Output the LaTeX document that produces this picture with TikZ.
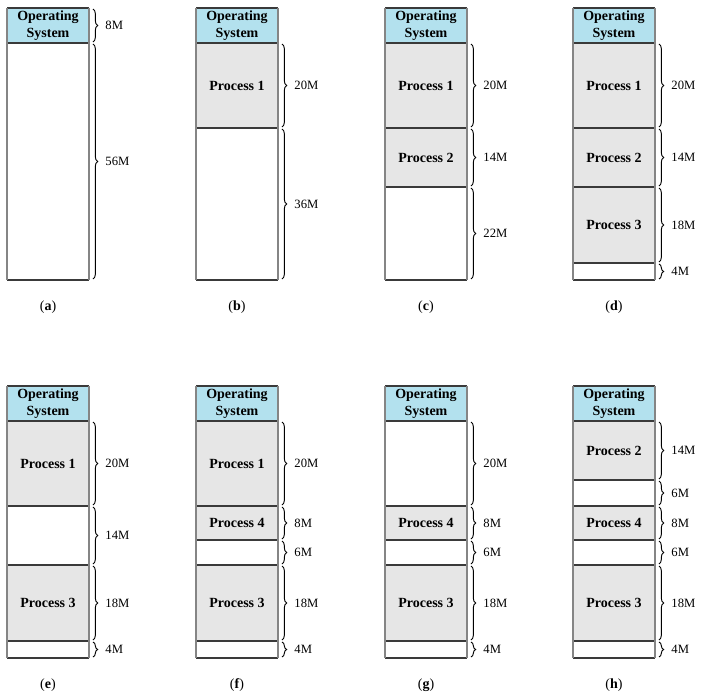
\documentclass[tikz,border=0pt]{standalone}
\usepackage{fontspec}
\setmainfont{Liberation Serif}
\usetikzlibrary{decorations.pathreplacing}
\definecolor{osblue}{HTML}{B3E1EE}
\definecolor{procgray}{HTML}{E6E6E6}
\definecolor{sidegray}{HTML}{858585}
\definecolor{divgray}{HTML}{3A3A3A}
\tikzset{
  osseg/.style={fill=osblue},
  procseg/.style={fill=procgray},
  freeseg/.style={fill=white},
  boxtext/.style={font=\bfseries\fontsize{10.5}{13}\selectfont, align=center, inner sep=0pt},
  sizelabel/.style={font=\fontsize{9.5}{10}\selectfont, anchor=west, inner sep=0pt},
  caption/.style={font=\fontsize{10.5}{12}\selectfont, inner sep=0pt},
  memsize/.style={decorate, decoration={brace, amplitude=3.5pt}, line width=0.7pt},
  divline/.style={draw=divgray, line width=1.3pt},
  sideline/.style={draw=sidegray, line width=2pt},
}
% \seg{name}{x}{ytop}{ybot}{style}{text}{size}
\newcommand{\seg}[7]{%
  \path[#5] (#2,#3) rectangle (#2+82,#4);
  \node[boxtext] (#1) at (#2+41,{(#3+#4)/2}) {#6};
  \coordinate (#1t) at (#2+86,#3+1);
  \coordinate (#1b) at (#2+86,#4-1);
  \draw[memsize] (#1t) -- (#1b) node[midway, right=9pt, sizelabel] {#7};
}
% \osbox{name}{x}{ytop}{ybot}  (no brace)
\newcommand{\osbox}[4]{%
  \path[osseg] (#2,#3) rectangle (#2+82,#4);
  \node[boxtext] (#1) at (#2+41,{(#3+#4)/2}) {Operating\\System};
}
\newcommand{\colframe}[4]{% x, ytop, list of divider ys, ybot
  \foreach \yy in {#3} {\draw[divline] (#1,\yy) -- (#1+82,\yy);}
  \draw[divgray, line width=1pt] (#1,#4) -- (#1+82,#4);
  \draw[divgray, line width=1pt] (#1,#2) -- (#1+82,#2);
  \draw[sideline] (#1,#2) -- (#1,#4);
  \draw[sideline] (#1+82,#2) -- (#1+82,#4);
}
\begin{document}
\begin{tikzpicture}[x=0.75pt,y=-0.75pt]
\useasboundingbox (0,0) rectangle (708,696);
% (a)
\seg{aos}{7}{8}{43}{osseg}{Operating\\System}{8M}
\seg{afree}{7}{43}{280}{freeseg}{}{56M}
\colframe{7}{8}{43}{280}
\node[caption] (capa) at (48,307) {(\textbf{a})};
% (b)
\osbox{bos}{196}{8}{43}
\seg{bp1}{196}{43}{128}{procseg}{Process 1}{20M}
\seg{bfree}{196}{128}{280}{freeseg}{}{36M}
\colframe{196}{8}{43,128}{280}
\node[caption] (capb) at (237,307) {(\textbf{b})};
% (c)
\osbox{cos}{385}{8}{43}
\seg{cp1}{385}{43}{128}{procseg}{Process 1}{20M}
\seg{cp2}{385}{128}{187}{procseg}{Process 2}{14M}
\seg{cfree}{385}{187}{280}{freeseg}{}{22M}
\colframe{385}{8}{43,128,187}{280}
\node[caption] (capc) at (426,307) {(\textbf{c})};
% (d)
\osbox{dos}{573}{8}{43}
\seg{dp1}{573}{43}{128}{procseg}{Process 1}{20M}
\seg{dp2}{573}{128}{187}{procseg}{Process 2}{14M}
\seg{dp3}{573}{187}{263}{procseg}{Process 3}{18M}
\seg{dfree}{573}{263}{280}{freeseg}{}{4M}
\colframe{573}{8}{43,128,187,263}{280}
\node[caption] (capd) at (614,307) {(\textbf{d})};
% (e)
\osbox{eos}{7}{386}{421}
\seg{ep1}{7}{421}{506}{procseg}{Process 1}{20M}
\seg{efree}{7}{506}{565}{freeseg}{}{14M}
\seg{ep3}{7}{565}{641}{procseg}{Process 3}{18M}
\seg{efree2}{7}{641}{658}{freeseg}{}{4M}
\colframe{7}{386}{421,506,565,641}{658}
\node[caption] (cape) at (48,685) {(\textbf{e})};
% (f)
\osbox{fos}{196}{386}{421}
\seg{fp1}{196}{421}{506}{procseg}{Process 1}{20M}
\seg{fp4}{196}{506}{540}{procseg}{Process 4}{8M}
\seg{ffree}{196}{540}{565}{freeseg}{}{6M}
\seg{fp3}{196}{565}{641}{procseg}{Process 3}{18M}
\seg{ffree2}{196}{641}{658}{freeseg}{}{4M}
\colframe{196}{386}{421,506,540,565,641}{658}
\node[caption] (capf) at (237,685) {(\textbf{f})};
% (g)
\osbox{gos}{385}{386}{421}
\seg{gfree}{385}{421}{506}{freeseg}{}{20M}
\seg{gp4}{385}{506}{540}{procseg}{Process 4}{8M}
\seg{gfree1}{385}{540}{565}{freeseg}{}{6M}
\seg{gp3}{385}{565}{641}{procseg}{Process 3}{18M}
\seg{gfree2}{385}{641}{658}{freeseg}{}{4M}
\colframe{385}{386}{421,506,540,565,641}{658}
\node[caption] (capg) at (426,685) {(\textbf{g})};
% (h)
\osbox{hos}{573}{386}{421}
\seg{hp2}{573}{421}{480}{procseg}{Process 2}{14M}
\seg{hfree}{573}{480}{506}{freeseg}{}{6M}
\seg{hp4}{573}{506}{540}{procseg}{Process 4}{8M}
\seg{hfree1}{573}{540}{565}{freeseg}{}{6M}
\seg{hp3}{573}{565}{641}{procseg}{Process 3}{18M}
\seg{hfree2}{573}{641}{658}{freeseg}{}{4M}
\colframe{573}{386}{421,480,506,540,565,641}{658}
\node[caption] (caph) at (614,685) {(\textbf{h})};
\end{tikzpicture}
\end{document}
